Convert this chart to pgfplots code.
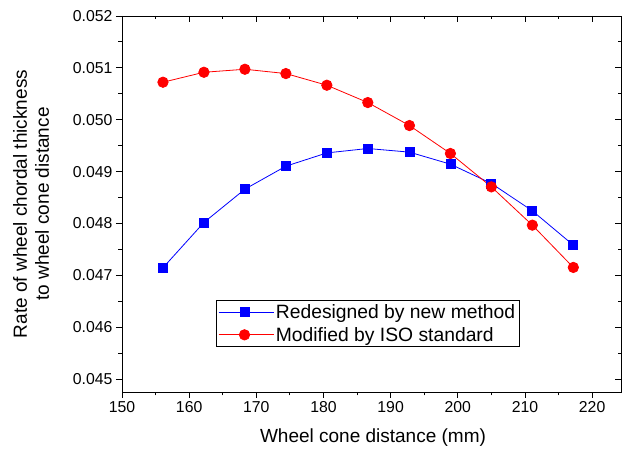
\documentclass[border=0pt]{standalone}
\usepackage{fontspec}
\setmainfont{Liberation Sans}
\usepackage{pgfplots}
\pgfplotsset{compat=1.18}

\definecolor{ored}{RGB}{255,0,0}
\definecolor{oblue}{RGB}{0,0,255}

\pgfplotsset{
  frame/.style={
    scale only axis, width=499pt, height=376pt,
    at={(0pt,0pt)}, anchor=south west,
    xmin=150, xmax=224.3, ymin=0.04475, ymax=0.052,
    xtick={150,160,170,180,190,200,210,220},
    ytick={0.045,0.046,0.047,0.048,0.049,0.050,0.051,0.052},
    minor x tick num=1, minor y tick num=1,
    major tick length=6pt, minor tick length=3.5pt,
    axis line style={line width=0.9pt},
    every tick/.style={black, line width=0.9pt},
    scaled y ticks=false,
  },
}

\begin{document}
\begin{tikzpicture}
\useasboundingbox (-122pt,-62pt) rectangle (502pt,392pt);
% mirrored ticks on top and right point into the box
\begin{axis}[frame, tick align=inside, xtick pos=right, ytick pos=right,
  xticklabels={}, yticklabels={}]
\end{axis}
\begin{axis}[frame, tick align=outside, xtick pos=left, ytick pos=left,
  /pgf/number format/assume math mode=true,
  yticklabel style={/pgf/number format/.cd, fixed, fixed zerofill, precision=3},
  tick label style={font=\fontsize{15.8}{18}\selectfont},
  xlabel={Wheel cone distance (mm)},
  ylabel={Rate of wheel chordal thickness\\to wheel cone distance},
  every axis x label/.style={at={(axis description cs:0.503,-0.122)}, anchor=center,
    font=\fontsize{19}{22}\selectfont},
  every axis y label/.style={at={(axis description cs:-0.182,0.5)}, anchor=center,
    rotate=90, align=center, font=\fontsize{19}{22}\selectfont},
  legend style={at={(0.188,0.12)}, anchor=south west, draw=black, line width=0.6pt,
    font=\fontsize{19.3}{22}\selectfont, cells={anchor=west}, inner sep=2pt,
    row sep=3pt},
  legend image code/.code={
    \path (-5pt,0pt) -- (50pt,0pt);
    \draw[mark repeat=2, mark phase=2] plot coordinates {(0pt,0pt) (21pt,0pt) (42pt,0pt)};
  },
]
\addplot[oblue, line width=0.8pt, mark=square*, mark size=4.5pt] coordinates {
  (156.1, 0.047145)
  (162.2, 0.048019)
  (168.3, 0.048661)
  (174.4, 0.049104)
  (180.5, 0.049360)
  (186.6, 0.049445)
  (192.8, 0.049375)
  (198.9, 0.049143)
  (205.0, 0.048771)
  (211.1, 0.048243)
  (217.2, 0.047582)
};
\addplot[ored, line width=0.8pt, mark=*, mark size=5.2pt] coordinates {
  (156.1, 0.050723)
  (162.2, 0.050915)
  (168.3, 0.050973)
  (174.4, 0.050890)
  (180.5, 0.050665)
  (186.6, 0.050331)
  (192.8, 0.049888)
  (198.9, 0.049349)
  (205.0, 0.048705)
  (211.1, 0.047967)
  (217.2, 0.047152)
};
\legend{Redesigned by new method, Modified by ISO standard}
\end{axis}
\end{tikzpicture}
\end{document}
